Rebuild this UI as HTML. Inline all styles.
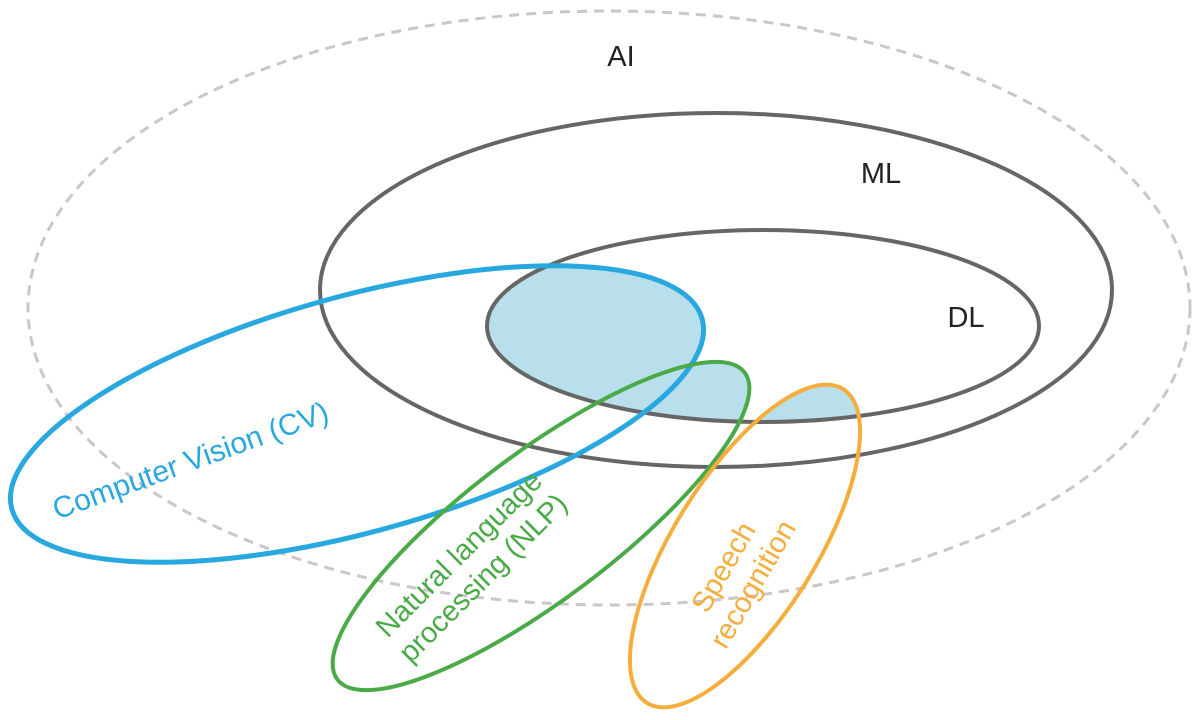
<!DOCTYPE html>
<html><head><meta charset="utf-8"><style>
html,body{margin:0;padding:0;background:#fff;}
svg{display:block;}
text{font-family:"Liberation Sans",sans-serif;font-size:28px;}
</style></head><body>
<svg width="1200" height="720" viewBox="0 0 1200 720" xmlns="http://www.w3.org/2000/svg">
<defs>
<clipPath id="dl"><ellipse cx="763" cy="326" rx="276" ry="96"/></clipPath>
</defs>
<ellipse cx="609" cy="308" rx="581" ry="297" fill="none" stroke="#c8c8c8" stroke-width="3" stroke-dasharray="10,7"/>
<g clip-path="url(#dl)" fill="#b8dfeb">
<ellipse cx="357" cy="414" rx="358" ry="118" transform="rotate(-15.4 357 414)"/>
<ellipse cx="541" cy="526" rx="255" ry="73" transform="rotate(-37 541 526)"/>
<ellipse cx="745" cy="546" rx="185" ry="71" transform="rotate(-58 745 546)"/>
</g>
<ellipse cx="716" cy="290" rx="396" ry="177" fill="none" stroke="#666" stroke-width="4"/>
<ellipse cx="763" cy="326" rx="276" ry="96" fill="none" stroke="#666" stroke-width="4"/>
<ellipse cx="357" cy="414" rx="358" ry="118" transform="rotate(-15.4 357 414)" fill="none" stroke="#29a8e0" stroke-width="5"/>
<ellipse cx="541" cy="526" rx="255" ry="73" transform="rotate(-37 541 526)" fill="none" stroke="#4aaa48" stroke-width="4"/>
<ellipse cx="745" cy="546" rx="185" ry="71" transform="rotate(-58 745 546)" fill="none" stroke="#f5ad3c" stroke-width="4"/>
<text x="621" y="66" text-anchor="middle" fill="#222" style="font-size:29px">AI</text>
<text x="881" y="183" text-anchor="middle" fill="#222" style="font-size:29px">ML</text>
<text x="966" y="327" text-anchor="middle" fill="#222" style="font-size:29px">DL</text>
<text transform="translate(194,470) rotate(-20)" text-anchor="middle" fill="#29a8e0" style="font-size:30px">Computer Vision (CV)</text>
<text transform="translate(470,565) rotate(-45)" text-anchor="middle" fill="#4aaa48" style="font-size:29px"><tspan x="0" y="-6">Natural language</tspan><tspan x="0" y="28">processing (NLP)</tspan></text>
<text transform="translate(737,575) rotate(-60)" text-anchor="middle" fill="#f5ad3c" style="font-size:29px"><tspan x="0" y="-6">Speech</tspan><tspan x="0" y="28">recognition</tspan></text>
</svg>
</body></html>
